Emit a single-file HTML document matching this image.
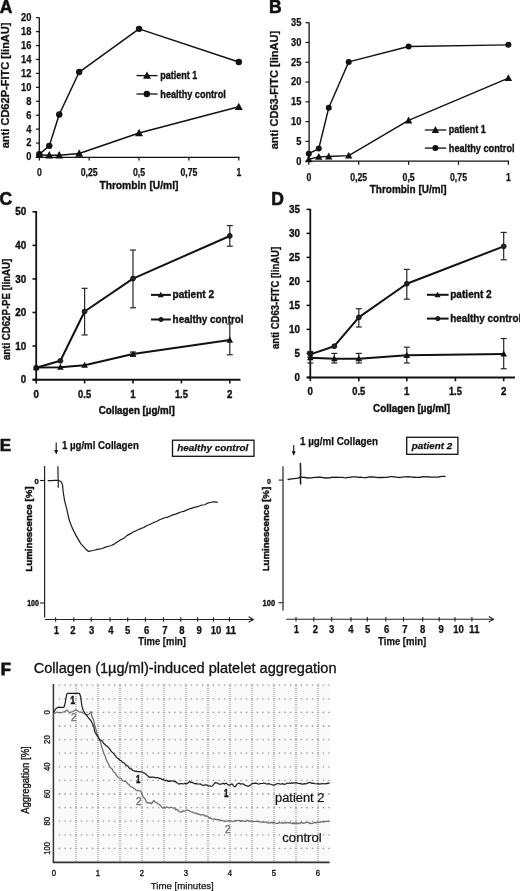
<!DOCTYPE html>
<html><head><meta charset="utf-8"><title>Figure</title>
<style>
html,body{margin:0;padding:0;background:#fff;}
body{width:520px;height:891px;overflow:hidden;}
svg{display:block;filter:grayscale(1);}
text{font-family:"Liberation Sans",sans-serif;}
</style></head><body>
<svg width="520" height="891" viewBox="0 0 520 891">
<rect width="520" height="891" fill="#fff"/>
<text x="-0.30" y="12.50" font-size="17.5" font-weight="bold"  text-anchor="start" fill="#111" stroke="#111" stroke-width="0.6"  >A</text>
<line x1="39.30" y1="17.40" x2="39.30" y2="157.60" stroke="#111" stroke-width="1.3" />
<line x1="38.60" y1="157.40" x2="239.50" y2="157.40" stroke="#111" stroke-width="1.3" />
<line x1="36.00" y1="157.00" x2="39.30" y2="157.00" stroke="#111" stroke-width="1.2" />
<text x="31.50" y="160.40" font-size="10.5" font-weight="bold"  text-anchor="end" fill="#111" stroke="#111" stroke-width="0.25" textLength="5.2" lengthAdjust="spacingAndGlyphs" >0</text>
<line x1="36.00" y1="143.07" x2="39.30" y2="143.07" stroke="#111" stroke-width="1.2" />
<text x="31.50" y="146.47" font-size="10.5" font-weight="bold"  text-anchor="end" fill="#111" stroke="#111" stroke-width="0.25" textLength="5.2" lengthAdjust="spacingAndGlyphs" >2</text>
<line x1="36.00" y1="129.14" x2="39.30" y2="129.14" stroke="#111" stroke-width="1.2" />
<text x="31.50" y="132.54" font-size="10.5" font-weight="bold"  text-anchor="end" fill="#111" stroke="#111" stroke-width="0.25" textLength="5.2" lengthAdjust="spacingAndGlyphs" >4</text>
<line x1="36.00" y1="115.21" x2="39.30" y2="115.21" stroke="#111" stroke-width="1.2" />
<text x="31.50" y="118.61" font-size="10.5" font-weight="bold"  text-anchor="end" fill="#111" stroke="#111" stroke-width="0.25" textLength="5.2" lengthAdjust="spacingAndGlyphs" >6</text>
<line x1="36.00" y1="101.28" x2="39.30" y2="101.28" stroke="#111" stroke-width="1.2" />
<text x="31.50" y="104.68" font-size="10.5" font-weight="bold"  text-anchor="end" fill="#111" stroke="#111" stroke-width="0.25" textLength="5.2" lengthAdjust="spacingAndGlyphs" >8</text>
<line x1="36.00" y1="87.35" x2="39.30" y2="87.35" stroke="#111" stroke-width="1.2" />
<text x="31.50" y="90.75" font-size="10.5" font-weight="bold"  text-anchor="end" fill="#111" stroke="#111" stroke-width="0.25" textLength="10.4" lengthAdjust="spacingAndGlyphs" >10</text>
<line x1="36.00" y1="73.42" x2="39.30" y2="73.42" stroke="#111" stroke-width="1.2" />
<text x="31.50" y="76.82" font-size="10.5" font-weight="bold"  text-anchor="end" fill="#111" stroke="#111" stroke-width="0.25" textLength="10.4" lengthAdjust="spacingAndGlyphs" >12</text>
<line x1="36.00" y1="59.49" x2="39.30" y2="59.49" stroke="#111" stroke-width="1.2" />
<text x="31.50" y="62.89" font-size="10.5" font-weight="bold"  text-anchor="end" fill="#111" stroke="#111" stroke-width="0.25" textLength="10.4" lengthAdjust="spacingAndGlyphs" >14</text>
<line x1="36.00" y1="45.56" x2="39.30" y2="45.56" stroke="#111" stroke-width="1.2" />
<text x="31.50" y="48.96" font-size="10.5" font-weight="bold"  text-anchor="end" fill="#111" stroke="#111" stroke-width="0.25" textLength="10.4" lengthAdjust="spacingAndGlyphs" >16</text>
<line x1="36.00" y1="31.63" x2="39.30" y2="31.63" stroke="#111" stroke-width="1.2" />
<text x="31.50" y="35.03" font-size="10.5" font-weight="bold"  text-anchor="end" fill="#111" stroke="#111" stroke-width="0.25" textLength="10.4" lengthAdjust="spacingAndGlyphs" >18</text>
<line x1="36.00" y1="17.70" x2="39.30" y2="17.70" stroke="#111" stroke-width="1.2" />
<text x="31.50" y="21.10" font-size="10.5" font-weight="bold"  text-anchor="end" fill="#111" stroke="#111" stroke-width="0.25" textLength="10.4" lengthAdjust="spacingAndGlyphs" >20</text>
<line x1="39.30" y1="157.00" x2="39.30" y2="160.60" stroke="#111" stroke-width="1.2" />
<text x="39.30" y="176.30" font-size="10.3" font-weight="bold"  text-anchor="middle" fill="#111" stroke="#111" stroke-width="0.25" textLength="4.8" lengthAdjust="spacingAndGlyphs" >0</text>
<line x1="89.17" y1="157.00" x2="89.17" y2="160.60" stroke="#111" stroke-width="1.2" />
<text x="89.17" y="176.30" font-size="10.3" font-weight="bold"  text-anchor="middle" fill="#111" stroke="#111" stroke-width="0.25" textLength="17.0" lengthAdjust="spacingAndGlyphs" >0,25</text>
<line x1="139.05" y1="157.00" x2="139.05" y2="160.60" stroke="#111" stroke-width="1.2" />
<text x="139.05" y="176.30" font-size="10.3" font-weight="bold"  text-anchor="middle" fill="#111" stroke="#111" stroke-width="0.25" textLength="12.2" lengthAdjust="spacingAndGlyphs" >0,5</text>
<line x1="188.93" y1="157.00" x2="188.93" y2="160.60" stroke="#111" stroke-width="1.2" />
<text x="188.93" y="176.30" font-size="10.3" font-weight="bold"  text-anchor="middle" fill="#111" stroke="#111" stroke-width="0.25" textLength="17.0" lengthAdjust="spacingAndGlyphs" >0,75</text>
<line x1="238.80" y1="157.00" x2="238.80" y2="160.60" stroke="#111" stroke-width="1.2" />
<text x="238.80" y="176.30" font-size="10.3" font-weight="bold"  text-anchor="middle" fill="#111" stroke="#111" stroke-width="0.25" textLength="4.8" lengthAdjust="spacingAndGlyphs" >1</text>
<text x="99.40" y="189.00" font-size="10.9" font-weight="bold"  text-anchor="start" fill="#111" stroke="#111" stroke-width="0.35" textLength="79.0" lengthAdjust="spacingAndGlyphs" >Thrombin [U/ml]</text>
<text transform="translate(4.90,85.40) rotate(-90)" x="0" y="3.60" font-size="10.0" font-weight="bold" text-anchor="middle" fill="#111" stroke="#111" stroke-width="0.25" textLength="125.8" lengthAdjust="spacingAndGlyphs">anti CD62P-FITC [linAU]</text>
<polyline points="39.30,154.21 49.27,145.86 59.25,114.51 79.20,72.03 139.05,28.84 238.80,61.93" fill="none" stroke="#111" stroke-width="1.5" stroke-linejoin="round" stroke-linecap="round" />
<polyline points="39.30,154.91 49.27,155.26 59.25,155.26 79.20,153.52 139.05,132.97 238.80,106.85" fill="none" stroke="#111" stroke-width="1.5" stroke-linejoin="round" stroke-linecap="round" />
<circle cx="39.30" cy="154.21" r="3.2" fill="#111" stroke="none" stroke-width="0"/>
<circle cx="49.27" cy="145.86" r="3.2" fill="#111" stroke="none" stroke-width="0"/>
<circle cx="59.25" cy="114.51" r="3.2" fill="#111" stroke="none" stroke-width="0"/>
<circle cx="79.20" cy="72.03" r="3.2" fill="#111" stroke="none" stroke-width="0"/>
<circle cx="139.05" cy="28.84" r="3.2" fill="#111" stroke="none" stroke-width="0"/>
<circle cx="238.80" cy="61.93" r="3.2" fill="#111" stroke="none" stroke-width="0"/>
<polygon points="39.30,150.71 35.30,158.11 43.30,158.11" fill="#111"/>
<polygon points="49.27,151.06 45.27,158.46 53.27,158.46" fill="#111"/>
<polygon points="59.25,151.06 55.25,158.46 63.25,158.46" fill="#111"/>
<polygon points="79.20,149.32 75.20,156.72 83.20,156.72" fill="#111"/>
<polygon points="139.05,128.77 135.05,136.17 143.05,136.17" fill="#111"/>
<polygon points="238.80,102.65 234.80,110.05 242.80,110.05" fill="#111"/>
<line x1="136.50" y1="75.60" x2="157.60" y2="75.60" stroke="#111" stroke-width="1.3" />
<polygon points="147.00,71.40 143.00,78.80 151.00,78.80" fill="#111"/>
<text x="160.30" y="78.80" font-size="10.8" font-weight="bold"  text-anchor="start" fill="#111" stroke="#111" stroke-width="0.35" textLength="37.0" lengthAdjust="spacingAndGlyphs" >patient 1</text>
<line x1="136.50" y1="94.00" x2="157.60" y2="94.00" stroke="#111" stroke-width="1.3" />
<circle cx="146.80" cy="94.00" r="3.2" fill="#111" stroke="none" stroke-width="0"/>
<text x="160.30" y="97.50" font-size="10.8" font-weight="bold"  text-anchor="start" fill="#111" stroke="#111" stroke-width="0.35" textLength="65.5" lengthAdjust="spacingAndGlyphs" >healthy control</text>
<text x="269.00" y="13.30" font-size="17.5" font-weight="bold"  text-anchor="start" fill="#111" stroke="#111" stroke-width="0.6"  >B</text>
<line x1="309.10" y1="22.30" x2="309.10" y2="161.80" stroke="#111" stroke-width="1.3" />
<line x1="308.20" y1="161.20" x2="509.00" y2="161.20" stroke="#111" stroke-width="1.3" />
<line x1="305.50" y1="161.20" x2="308.80" y2="161.20" stroke="#111" stroke-width="1.2" />
<text x="301.40" y="164.60" font-size="10.5" font-weight="bold"  text-anchor="end" fill="#111" stroke="#111" stroke-width="0.25" textLength="5.2" lengthAdjust="spacingAndGlyphs" >0</text>
<line x1="305.50" y1="141.41" x2="308.80" y2="141.41" stroke="#111" stroke-width="1.2" />
<text x="301.40" y="144.81" font-size="10.5" font-weight="bold"  text-anchor="end" fill="#111" stroke="#111" stroke-width="0.25" textLength="5.2" lengthAdjust="spacingAndGlyphs" >5</text>
<line x1="305.50" y1="121.63" x2="308.80" y2="121.63" stroke="#111" stroke-width="1.2" />
<text x="301.40" y="125.03" font-size="10.5" font-weight="bold"  text-anchor="end" fill="#111" stroke="#111" stroke-width="0.25" textLength="10.4" lengthAdjust="spacingAndGlyphs" >10</text>
<line x1="305.50" y1="101.84" x2="308.80" y2="101.84" stroke="#111" stroke-width="1.2" />
<text x="301.40" y="105.24" font-size="10.5" font-weight="bold"  text-anchor="end" fill="#111" stroke="#111" stroke-width="0.25" textLength="10.4" lengthAdjust="spacingAndGlyphs" >15</text>
<line x1="305.50" y1="82.06" x2="308.80" y2="82.06" stroke="#111" stroke-width="1.2" />
<text x="301.40" y="85.46" font-size="10.5" font-weight="bold"  text-anchor="end" fill="#111" stroke="#111" stroke-width="0.25" textLength="10.4" lengthAdjust="spacingAndGlyphs" >20</text>
<line x1="305.50" y1="62.27" x2="308.80" y2="62.27" stroke="#111" stroke-width="1.2" />
<text x="301.40" y="65.67" font-size="10.5" font-weight="bold"  text-anchor="end" fill="#111" stroke="#111" stroke-width="0.25" textLength="10.4" lengthAdjust="spacingAndGlyphs" >25</text>
<line x1="305.50" y1="42.49" x2="308.80" y2="42.49" stroke="#111" stroke-width="1.2" />
<text x="301.40" y="45.89" font-size="10.5" font-weight="bold"  text-anchor="end" fill="#111" stroke="#111" stroke-width="0.25" textLength="10.4" lengthAdjust="spacingAndGlyphs" >30</text>
<line x1="305.50" y1="22.70" x2="308.80" y2="22.70" stroke="#111" stroke-width="1.2" />
<text x="301.40" y="26.10" font-size="10.5" font-weight="bold"  text-anchor="end" fill="#111" stroke="#111" stroke-width="0.25" textLength="10.4" lengthAdjust="spacingAndGlyphs" >35</text>
<line x1="308.80" y1="161.20" x2="308.80" y2="164.80" stroke="#111" stroke-width="1.2" />
<text x="308.80" y="181.00" font-size="10.3" font-weight="bold"  text-anchor="middle" fill="#111" stroke="#111" stroke-width="0.25" textLength="4.8" lengthAdjust="spacingAndGlyphs" >0</text>
<line x1="358.70" y1="161.20" x2="358.70" y2="164.80" stroke="#111" stroke-width="1.2" />
<text x="358.70" y="181.00" font-size="10.3" font-weight="bold"  text-anchor="middle" fill="#111" stroke="#111" stroke-width="0.25" textLength="17.0" lengthAdjust="spacingAndGlyphs" >0,25</text>
<line x1="408.60" y1="161.20" x2="408.60" y2="164.80" stroke="#111" stroke-width="1.2" />
<text x="408.60" y="181.00" font-size="10.3" font-weight="bold"  text-anchor="middle" fill="#111" stroke="#111" stroke-width="0.25" textLength="12.2" lengthAdjust="spacingAndGlyphs" >0,5</text>
<line x1="458.50" y1="161.20" x2="458.50" y2="164.80" stroke="#111" stroke-width="1.2" />
<text x="458.50" y="181.00" font-size="10.3" font-weight="bold"  text-anchor="middle" fill="#111" stroke="#111" stroke-width="0.25" textLength="17.0" lengthAdjust="spacingAndGlyphs" >0,75</text>
<line x1="508.40" y1="161.20" x2="508.40" y2="164.80" stroke="#111" stroke-width="1.2" />
<text x="508.40" y="181.00" font-size="10.3" font-weight="bold"  text-anchor="middle" fill="#111" stroke="#111" stroke-width="0.25" textLength="4.8" lengthAdjust="spacingAndGlyphs" >1</text>
<text x="369.80" y="193.30" font-size="10.9" font-weight="bold"  text-anchor="start" fill="#111" stroke="#111" stroke-width="0.35" textLength="76.8" lengthAdjust="spacingAndGlyphs" >Thrombin [U/ml]</text>
<text transform="translate(274.30,90.05) rotate(-90)" x="0" y="3.71" font-size="10.3" font-weight="bold" text-anchor="middle" fill="#111" stroke="#111" stroke-width="0.25" textLength="118.5" lengthAdjust="spacingAndGlyphs">anti CD63-FITC [linAU]</text>
<polyline points="308.80,153.68 318.78,148.54 328.76,107.78 348.72,61.88 408.60,46.45 508.40,44.86" fill="none" stroke="#111" stroke-width="1.4" stroke-linejoin="round" stroke-linecap="round" />
<polyline points="308.80,159.22 318.78,156.85 328.76,156.45 348.72,155.66 408.60,120.44 508.40,78.10" fill="none" stroke="#111" stroke-width="1.4" stroke-linejoin="round" stroke-linecap="round" />
<circle cx="308.80" cy="153.68" r="3.0" fill="#111" stroke="none" stroke-width="0"/>
<circle cx="318.78" cy="148.54" r="3.0" fill="#111" stroke="none" stroke-width="0"/>
<circle cx="328.76" cy="107.78" r="3.0" fill="#111" stroke="none" stroke-width="0"/>
<circle cx="348.72" cy="61.88" r="3.0" fill="#111" stroke="none" stroke-width="0"/>
<circle cx="408.60" cy="46.45" r="3.0" fill="#111" stroke="none" stroke-width="0"/>
<circle cx="508.40" cy="44.86" r="3.0" fill="#111" stroke="none" stroke-width="0"/>
<polygon points="308.80,155.34 305.10,162.18 312.50,162.18" fill="#111"/>
<polygon points="318.78,152.96 315.08,159.81 322.48,159.81" fill="#111"/>
<polygon points="328.76,152.57 325.06,159.41 332.46,159.41" fill="#111"/>
<polygon points="348.72,151.78 345.02,158.62 352.42,158.62" fill="#111"/>
<polygon points="408.60,116.56 404.90,123.40 412.30,123.40" fill="#111"/>
<polygon points="508.40,74.22 504.70,81.06 512.10,81.06" fill="#111"/>
<line x1="424.80" y1="130.00" x2="446.20" y2="130.00" stroke="#111" stroke-width="1.3" />
<polygon points="435.40,126.11 431.70,132.96 439.10,132.96" fill="#111"/>
<text x="448.80" y="133.30" font-size="10.8" font-weight="bold"  text-anchor="start" fill="#111" stroke="#111" stroke-width="0.35" textLength="37.0" lengthAdjust="spacingAndGlyphs" >patient 1</text>
<line x1="424.80" y1="148.10" x2="446.20" y2="148.10" stroke="#111" stroke-width="1.3" />
<circle cx="435.40" cy="148.10" r="3.0" fill="#111" stroke="none" stroke-width="0"/>
<text x="448.80" y="151.50" font-size="10.8" font-weight="bold"  text-anchor="start" fill="#111" stroke="#111" stroke-width="0.35" textLength="65.8" lengthAdjust="spacingAndGlyphs" >healthy control</text>
<text x="-0.50" y="205.20" font-size="17.5" font-weight="bold"  text-anchor="start" fill="#111" stroke="#111" stroke-width="0.6"  >C</text>
<line x1="36.20" y1="211.00" x2="36.20" y2="381.00" stroke="#111" stroke-width="1.8" />
<line x1="32.60" y1="379.80" x2="240.50" y2="379.80" stroke="#111" stroke-width="2.0" />
<line x1="32.50" y1="379.60" x2="36.20" y2="379.60" stroke="#111" stroke-width="1.6" />
<text x="26.20" y="383.20" font-size="10.0" font-weight="bold"  text-anchor="end" fill="#111" stroke="#111" stroke-width="0.35" textLength="5.4" lengthAdjust="spacingAndGlyphs" >0</text>
<line x1="32.50" y1="346.04" x2="36.20" y2="346.04" stroke="#111" stroke-width="1.6" />
<text x="26.20" y="349.64" font-size="10.0" font-weight="bold"  text-anchor="end" fill="#111" stroke="#111" stroke-width="0.35" textLength="11.0" lengthAdjust="spacingAndGlyphs" >10</text>
<line x1="32.50" y1="312.48" x2="36.20" y2="312.48" stroke="#111" stroke-width="1.6" />
<text x="26.20" y="316.08" font-size="10.0" font-weight="bold"  text-anchor="end" fill="#111" stroke="#111" stroke-width="0.35" textLength="11.0" lengthAdjust="spacingAndGlyphs" >20</text>
<line x1="32.50" y1="278.92" x2="36.20" y2="278.92" stroke="#111" stroke-width="1.6" />
<text x="26.20" y="282.52" font-size="10.0" font-weight="bold"  text-anchor="end" fill="#111" stroke="#111" stroke-width="0.35" textLength="11.0" lengthAdjust="spacingAndGlyphs" >30</text>
<line x1="32.50" y1="245.36" x2="36.20" y2="245.36" stroke="#111" stroke-width="1.6" />
<text x="26.20" y="248.96" font-size="10.0" font-weight="bold"  text-anchor="end" fill="#111" stroke="#111" stroke-width="0.35" textLength="11.0" lengthAdjust="spacingAndGlyphs" >40</text>
<line x1="32.50" y1="211.80" x2="36.20" y2="211.80" stroke="#111" stroke-width="1.6" />
<text x="26.20" y="215.40" font-size="10.0" font-weight="bold"  text-anchor="end" fill="#111" stroke="#111" stroke-width="0.35" textLength="11.0" lengthAdjust="spacingAndGlyphs" >50</text>
<line x1="36.20" y1="379.60" x2="36.20" y2="383.40" stroke="#111" stroke-width="1.6" />
<text x="36.20" y="398.20" font-size="10.0" font-weight="bold"  text-anchor="middle" fill="#111" stroke="#111" stroke-width="0.35" textLength="5.4" lengthAdjust="spacingAndGlyphs" >0</text>
<line x1="84.60" y1="379.60" x2="84.60" y2="383.40" stroke="#111" stroke-width="1.6" />
<text x="84.60" y="398.20" font-size="10.0" font-weight="bold"  text-anchor="middle" fill="#111" stroke="#111" stroke-width="0.35" textLength="13.0" lengthAdjust="spacingAndGlyphs" >0.5</text>
<line x1="133.00" y1="379.60" x2="133.00" y2="383.40" stroke="#111" stroke-width="1.6" />
<text x="133.00" y="398.20" font-size="10.0" font-weight="bold"  text-anchor="middle" fill="#111" stroke="#111" stroke-width="0.35" textLength="5.4" lengthAdjust="spacingAndGlyphs" >1</text>
<line x1="181.40" y1="379.60" x2="181.40" y2="383.40" stroke="#111" stroke-width="1.6" />
<text x="181.40" y="398.20" font-size="10.0" font-weight="bold"  text-anchor="middle" fill="#111" stroke="#111" stroke-width="0.35" textLength="13.0" lengthAdjust="spacingAndGlyphs" >1.5</text>
<line x1="229.80" y1="379.60" x2="229.80" y2="383.40" stroke="#111" stroke-width="1.6" />
<text x="229.80" y="398.20" font-size="10.0" font-weight="bold"  text-anchor="middle" fill="#111" stroke="#111" stroke-width="0.35" textLength="5.4" lengthAdjust="spacingAndGlyphs" >2</text>
<text x="98.70" y="414.10" font-size="10.2" font-weight="bold"  text-anchor="start" fill="#111" stroke="#111" stroke-width="0.4" textLength="76.0" lengthAdjust="spacingAndGlyphs" >Collagen [µg/ml]</text>
<text transform="translate(5.90,309.40) rotate(-90)" x="0" y="3.60" font-size="10.0" font-weight="bold" text-anchor="middle" fill="#111" stroke="#111" stroke-width="0.3" textLength="101.3" lengthAdjust="spacingAndGlyphs">anti CD62P-PE [linAU]</text>
<line x1="84.60" y1="288.32" x2="84.60" y2="334.97" stroke="#262626" stroke-width="1.2" />
<line x1="81.60" y1="288.32" x2="87.60" y2="288.32" stroke="#262626" stroke-width="1.2" />
<line x1="81.60" y1="334.97" x2="87.60" y2="334.97" stroke="#262626" stroke-width="1.2" />
<line x1="133.00" y1="250.06" x2="133.00" y2="307.78" stroke="#262626" stroke-width="1.2" />
<line x1="130.00" y1="250.06" x2="136.00" y2="250.06" stroke="#262626" stroke-width="1.2" />
<line x1="130.00" y1="307.78" x2="136.00" y2="307.78" stroke="#262626" stroke-width="1.2" />
<line x1="229.80" y1="225.56" x2="229.80" y2="246.20" stroke="#262626" stroke-width="1.2" />
<line x1="226.80" y1="225.56" x2="232.80" y2="225.56" stroke="#262626" stroke-width="1.2" />
<line x1="226.80" y1="246.20" x2="232.80" y2="246.20" stroke="#262626" stroke-width="1.2" />
<line x1="133.00" y1="352.08" x2="133.00" y2="356.11" stroke="#262626" stroke-width="1.2" />
<line x1="130.00" y1="352.08" x2="136.00" y2="352.08" stroke="#262626" stroke-width="1.2" />
<line x1="130.00" y1="356.11" x2="136.00" y2="356.11" stroke="#262626" stroke-width="1.2" />
<line x1="229.80" y1="323.89" x2="229.80" y2="354.77" stroke="#262626" stroke-width="1.2" />
<line x1="226.80" y1="323.89" x2="232.80" y2="323.89" stroke="#262626" stroke-width="1.2" />
<line x1="226.80" y1="354.77" x2="232.80" y2="354.77" stroke="#262626" stroke-width="1.2" />
<polyline points="36.20,367.69 60.40,360.81 84.60,311.47 133.00,278.58 229.80,235.96" fill="none" stroke="#111" stroke-width="2.0" stroke-linejoin="round" stroke-linecap="round" />
<polyline points="36.20,367.52 60.40,367.18 84.60,365.17 133.00,354.09 229.80,340.00" fill="none" stroke="#111" stroke-width="2.0" stroke-linejoin="round" stroke-linecap="round" />
<circle cx="36.20" cy="367.69" r="2.4" fill="#222" stroke="#111" stroke-width="1.0"/>
<circle cx="60.40" cy="360.81" r="2.4" fill="#222" stroke="#111" stroke-width="1.0"/>
<circle cx="84.60" cy="311.47" r="2.4" fill="#222" stroke="#111" stroke-width="1.0"/>
<circle cx="133.00" cy="278.58" r="2.4" fill="#222" stroke="#111" stroke-width="1.0"/>
<circle cx="229.80" cy="235.96" r="2.4" fill="#222" stroke="#111" stroke-width="1.0"/>
<polygon points="36.20,364.05 32.90,370.16 39.50,370.16" fill="#111"/>
<polygon points="60.40,363.72 57.10,369.82 63.70,369.82" fill="#111"/>
<polygon points="84.60,361.70 81.30,367.81 87.90,367.81" fill="#111"/>
<polygon points="133.00,350.63 129.70,356.73 136.30,356.73" fill="#111"/>
<polygon points="229.80,336.53 226.50,342.64 233.10,342.64" fill="#111"/>
<line x1="151.00" y1="294.90" x2="170.80" y2="294.90" stroke="#111" stroke-width="2.0" />
<polygon points="160.70,291.75 157.70,297.30 163.70,297.30" fill="#111"/>
<text x="172.60" y="298.40" font-size="10.4" font-weight="bold"  text-anchor="start" fill="#111" stroke="#111" stroke-width="0.35" textLength="41.5" lengthAdjust="spacingAndGlyphs" >patient 2</text>
<line x1="151.00" y1="319.50" x2="170.80" y2="319.50" stroke="#111" stroke-width="2.0" />
<circle cx="161.00" cy="319.50" r="2.1" fill="#222" stroke="#111" stroke-width="1.0"/>
<text x="172.60" y="323.00" font-size="10.4" font-weight="bold"  text-anchor="start" fill="#111" stroke="#111" stroke-width="0.35" textLength="71.0" lengthAdjust="spacingAndGlyphs" >healthy control</text>
<text x="271.20" y="205.20" font-size="17.5" font-weight="bold"  text-anchor="start" fill="#111" stroke="#111" stroke-width="0.6"  >D</text>
<line x1="310.30" y1="208.90" x2="310.30" y2="378.40" stroke="#111" stroke-width="1.8" />
<line x1="306.80" y1="377.60" x2="515.00" y2="377.60" stroke="#111" stroke-width="2.0" />
<line x1="306.60" y1="377.40" x2="310.30" y2="377.40" stroke="#111" stroke-width="1.6" />
<text x="300.00" y="381.00" font-size="10.0" font-weight="bold"  text-anchor="end" fill="#111" stroke="#111" stroke-width="0.35" textLength="5.4" lengthAdjust="spacingAndGlyphs" >0</text>
<line x1="306.60" y1="353.40" x2="310.30" y2="353.40" stroke="#111" stroke-width="1.6" />
<text x="300.00" y="357.00" font-size="10.0" font-weight="bold"  text-anchor="end" fill="#111" stroke="#111" stroke-width="0.35" textLength="5.4" lengthAdjust="spacingAndGlyphs" >5</text>
<line x1="306.60" y1="329.40" x2="310.30" y2="329.40" stroke="#111" stroke-width="1.6" />
<text x="300.00" y="333.00" font-size="10.0" font-weight="bold"  text-anchor="end" fill="#111" stroke="#111" stroke-width="0.35" textLength="11.0" lengthAdjust="spacingAndGlyphs" >10</text>
<line x1="306.60" y1="305.40" x2="310.30" y2="305.40" stroke="#111" stroke-width="1.6" />
<text x="300.00" y="309.00" font-size="10.0" font-weight="bold"  text-anchor="end" fill="#111" stroke="#111" stroke-width="0.35" textLength="11.0" lengthAdjust="spacingAndGlyphs" >15</text>
<line x1="306.60" y1="281.40" x2="310.30" y2="281.40" stroke="#111" stroke-width="1.6" />
<text x="300.00" y="285.00" font-size="10.0" font-weight="bold"  text-anchor="end" fill="#111" stroke="#111" stroke-width="0.35" textLength="11.0" lengthAdjust="spacingAndGlyphs" >20</text>
<line x1="306.60" y1="257.40" x2="310.30" y2="257.40" stroke="#111" stroke-width="1.6" />
<text x="300.00" y="261.00" font-size="10.0" font-weight="bold"  text-anchor="end" fill="#111" stroke="#111" stroke-width="0.35" textLength="11.0" lengthAdjust="spacingAndGlyphs" >25</text>
<line x1="306.60" y1="233.40" x2="310.30" y2="233.40" stroke="#111" stroke-width="1.6" />
<text x="300.00" y="237.00" font-size="10.0" font-weight="bold"  text-anchor="end" fill="#111" stroke="#111" stroke-width="0.35" textLength="11.0" lengthAdjust="spacingAndGlyphs" >30</text>
<line x1="306.60" y1="209.40" x2="310.30" y2="209.40" stroke="#111" stroke-width="1.6" />
<text x="300.00" y="213.00" font-size="10.0" font-weight="bold"  text-anchor="end" fill="#111" stroke="#111" stroke-width="0.35" textLength="11.0" lengthAdjust="spacingAndGlyphs" >35</text>
<line x1="310.30" y1="377.40" x2="310.30" y2="381.20" stroke="#111" stroke-width="1.6" />
<text x="310.30" y="395.30" font-size="10.0" font-weight="bold"  text-anchor="middle" fill="#111" stroke="#111" stroke-width="0.35" textLength="5.4" lengthAdjust="spacingAndGlyphs" >0</text>
<line x1="358.80" y1="377.40" x2="358.80" y2="381.20" stroke="#111" stroke-width="1.6" />
<text x="358.80" y="395.30" font-size="10.0" font-weight="bold"  text-anchor="middle" fill="#111" stroke="#111" stroke-width="0.35" textLength="13.0" lengthAdjust="spacingAndGlyphs" >0.5</text>
<line x1="406.80" y1="377.40" x2="406.80" y2="381.20" stroke="#111" stroke-width="1.6" />
<text x="406.80" y="395.30" font-size="10.0" font-weight="bold"  text-anchor="middle" fill="#111" stroke="#111" stroke-width="0.35" textLength="5.4" lengthAdjust="spacingAndGlyphs" >1</text>
<line x1="455.40" y1="377.40" x2="455.40" y2="381.20" stroke="#111" stroke-width="1.6" />
<text x="455.40" y="395.30" font-size="10.0" font-weight="bold"  text-anchor="middle" fill="#111" stroke="#111" stroke-width="0.35" textLength="13.0" lengthAdjust="spacingAndGlyphs" >1.5</text>
<line x1="503.70" y1="377.40" x2="503.70" y2="381.20" stroke="#111" stroke-width="1.6" />
<text x="503.70" y="395.30" font-size="10.0" font-weight="bold"  text-anchor="middle" fill="#111" stroke="#111" stroke-width="0.35" textLength="5.4" lengthAdjust="spacingAndGlyphs" >2</text>
<text x="373.10" y="412.30" font-size="10.2" font-weight="bold"  text-anchor="start" fill="#111" stroke="#111" stroke-width="0.4" textLength="77.0" lengthAdjust="spacingAndGlyphs" >Collagen [µg/ml]</text>
<text transform="translate(275.00,297.90) rotate(-90)" x="0" y="3.60" font-size="10.0" font-weight="bold" text-anchor="middle" fill="#111" stroke="#111" stroke-width="0.3" textLength="102.1" lengthAdjust="spacingAndGlyphs">anti CD63-FITC [linAU]</text>
<line x1="310.30" y1="351.48" x2="310.30" y2="357.24" stroke="#262626" stroke-width="1.2" />
<line x1="307.30" y1="351.48" x2="313.30" y2="351.48" stroke="#262626" stroke-width="1.2" />
<line x1="307.30" y1="357.24" x2="313.30" y2="357.24" stroke="#262626" stroke-width="1.2" />
<line x1="358.80" y1="308.76" x2="358.80" y2="327.00" stroke="#262626" stroke-width="1.2" />
<line x1="355.80" y1="308.76" x2="361.80" y2="308.76" stroke="#262626" stroke-width="1.2" />
<line x1="355.80" y1="327.00" x2="361.80" y2="327.00" stroke="#262626" stroke-width="1.2" />
<line x1="406.80" y1="269.40" x2="406.80" y2="299.16" stroke="#262626" stroke-width="1.2" />
<line x1="403.80" y1="269.40" x2="409.80" y2="269.40" stroke="#262626" stroke-width="1.2" />
<line x1="403.80" y1="299.16" x2="409.80" y2="299.16" stroke="#262626" stroke-width="1.2" />
<line x1="503.70" y1="232.44" x2="503.70" y2="259.80" stroke="#262626" stroke-width="1.2" />
<line x1="500.70" y1="232.44" x2="506.70" y2="232.44" stroke="#262626" stroke-width="1.2" />
<line x1="500.70" y1="259.80" x2="506.70" y2="259.80" stroke="#262626" stroke-width="1.2" />
<line x1="310.30" y1="352.44" x2="310.30" y2="363.00" stroke="#262626" stroke-width="1.2" />
<line x1="307.30" y1="352.44" x2="313.30" y2="352.44" stroke="#262626" stroke-width="1.2" />
<line x1="307.30" y1="363.00" x2="313.30" y2="363.00" stroke="#262626" stroke-width="1.2" />
<line x1="334.30" y1="353.40" x2="334.30" y2="363.00" stroke="#262626" stroke-width="1.2" />
<line x1="331.30" y1="353.40" x2="337.30" y2="353.40" stroke="#262626" stroke-width="1.2" />
<line x1="331.30" y1="363.00" x2="337.30" y2="363.00" stroke="#262626" stroke-width="1.2" />
<line x1="358.80" y1="353.40" x2="358.80" y2="363.00" stroke="#262626" stroke-width="1.2" />
<line x1="355.80" y1="353.40" x2="361.80" y2="353.40" stroke="#262626" stroke-width="1.2" />
<line x1="355.80" y1="363.00" x2="361.80" y2="363.00" stroke="#262626" stroke-width="1.2" />
<line x1="406.80" y1="347.16" x2="406.80" y2="363.00" stroke="#262626" stroke-width="1.2" />
<line x1="403.80" y1="347.16" x2="409.80" y2="347.16" stroke="#262626" stroke-width="1.2" />
<line x1="403.80" y1="363.00" x2="409.80" y2="363.00" stroke="#262626" stroke-width="1.2" />
<line x1="503.70" y1="338.52" x2="503.70" y2="368.76" stroke="#262626" stroke-width="1.2" />
<line x1="500.70" y1="338.52" x2="506.70" y2="338.52" stroke="#262626" stroke-width="1.2" />
<line x1="500.70" y1="368.76" x2="506.70" y2="368.76" stroke="#262626" stroke-width="1.2" />
<polyline points="310.30,354.36 334.30,346.20 358.80,317.40 406.80,283.80 503.70,246.36" fill="none" stroke="#111" stroke-width="2.0" stroke-linejoin="round" stroke-linecap="round" />
<polyline points="310.30,357.72 334.30,358.68 358.80,358.68 406.80,355.32 503.70,353.88" fill="none" stroke="#111" stroke-width="2.0" stroke-linejoin="round" stroke-linecap="round" />
<circle cx="310.30" cy="354.36" r="2.4" fill="#222" stroke="#111" stroke-width="1.0"/>
<circle cx="334.30" cy="346.20" r="2.4" fill="#222" stroke="#111" stroke-width="1.0"/>
<circle cx="358.80" cy="317.40" r="2.4" fill="#222" stroke="#111" stroke-width="1.0"/>
<circle cx="406.80" cy="283.80" r="2.4" fill="#222" stroke="#111" stroke-width="1.0"/>
<circle cx="503.70" cy="246.36" r="2.4" fill="#222" stroke="#111" stroke-width="1.0"/>
<polygon points="310.30,354.25 307.00,360.36 313.60,360.36" fill="#111"/>
<polygon points="334.30,355.21 331.00,361.32 337.60,361.32" fill="#111"/>
<polygon points="358.80,355.21 355.50,361.32 362.10,361.32" fill="#111"/>
<polygon points="406.80,351.86 403.50,357.96 410.10,357.96" fill="#111"/>
<polygon points="503.70,350.42 500.40,356.52 507.00,356.52" fill="#111"/>
<line x1="427.00" y1="294.80" x2="448.60" y2="294.80" stroke="#111" stroke-width="2.0" />
<polygon points="437.50,291.65 434.50,297.20 440.50,297.20" fill="#111"/>
<text x="450.20" y="298.30" font-size="10.4" font-weight="bold"  text-anchor="start" fill="#111" stroke="#111" stroke-width="0.35" textLength="41.5" lengthAdjust="spacingAndGlyphs" >patient 2</text>
<line x1="427.00" y1="318.60" x2="448.60" y2="318.60" stroke="#111" stroke-width="2.0" />
<circle cx="437.80" cy="318.60" r="2.1" fill="#222" stroke="#111" stroke-width="1.0"/>
<text x="450.20" y="322.10" font-size="10.4" font-weight="bold"  text-anchor="start" fill="#111" stroke="#111" stroke-width="0.35" textLength="71.0" lengthAdjust="spacingAndGlyphs" >healthy control</text>
<text x="-0.30" y="450.70" font-size="17.0" font-weight="bold"  text-anchor="start" fill="#111" stroke="#111" stroke-width="0.6"  >E</text>
<line x1="56.20" y1="442.50" x2="56.20" y2="451.00" stroke="#111" stroke-width="1.1" />
<polygon points="54.2,450.0 58.2,450.0 56.2,454.6" fill="#111"/>
<text x="61.90" y="449.40" font-size="10.2" font-weight="bold"  text-anchor="start" fill="#111" stroke="#111" stroke-width="0.25" textLength="76.9" lengthAdjust="spacingAndGlyphs" >1 µg/ml Collagen</text>
<rect x="172.5" y="440.2" width="81.5" height="16.1" fill="none" stroke="#111" stroke-width="1.3"/>
<text x="177.30" y="451.20" font-size="9.9" font-weight="bold" font-style="italic" text-anchor="start" fill="#111" stroke="#111" stroke-width="0.25" textLength="71.0" lengthAdjust="spacingAndGlyphs" >healthy control</text>
<line x1="44.60" y1="466.00" x2="44.60" y2="617.50" stroke="#222" stroke-width="1.2" />
<line x1="40.00" y1="480.50" x2="44.60" y2="480.50" stroke="#222" stroke-width="1.1" />
<line x1="40.00" y1="603.00" x2="44.60" y2="603.00" stroke="#222" stroke-width="1.1" />
<text x="36.60" y="484.00" font-size="8.0" font-weight="bold"  text-anchor="middle" fill="#111" stroke="#111" stroke-width="0.4" textLength="4.2" lengthAdjust="spacingAndGlyphs" >0</text>
<text x="38.90" y="606.00" font-size="8.5" font-weight="bold"  text-anchor="end" fill="#111" stroke="#111" stroke-width="0.35" textLength="11.7" lengthAdjust="spacingAndGlyphs" >100</text>
<line x1="45.00" y1="619.50" x2="253.30" y2="619.50" stroke="#222" stroke-width="1.1" />
<polyline points="248.6,616.8 253.3,619.5 248.6,622.2" fill="none" stroke="#222" stroke-width="1.1"/>
<line x1="55.60" y1="617.30" x2="55.60" y2="621.70" stroke="#222" stroke-width="1.1" />
<text x="56.50" y="633.50" font-size="10.0" font-weight="bold"  text-anchor="middle" fill="#111" stroke="#111" stroke-width="0.25" textLength="5.3" lengthAdjust="spacingAndGlyphs" >1</text>
<line x1="73.80" y1="617.30" x2="73.80" y2="621.70" stroke="#222" stroke-width="1.1" />
<text x="72.90" y="633.50" font-size="10.0" font-weight="bold"  text-anchor="middle" fill="#111" stroke="#111" stroke-width="0.25" textLength="5.3" lengthAdjust="spacingAndGlyphs" >2</text>
<line x1="91.20" y1="617.30" x2="91.20" y2="621.70" stroke="#222" stroke-width="1.1" />
<text x="91.70" y="633.50" font-size="10.0" font-weight="bold"  text-anchor="middle" fill="#111" stroke="#111" stroke-width="0.25" textLength="5.3" lengthAdjust="spacingAndGlyphs" >3</text>
<line x1="110.00" y1="617.30" x2="110.00" y2="621.70" stroke="#222" stroke-width="1.1" />
<text x="111.00" y="633.50" font-size="10.0" font-weight="bold"  text-anchor="middle" fill="#111" stroke="#111" stroke-width="0.25" textLength="5.3" lengthAdjust="spacingAndGlyphs" >4</text>
<line x1="127.70" y1="617.30" x2="127.70" y2="621.70" stroke="#222" stroke-width="1.1" />
<text x="127.70" y="633.50" font-size="10.0" font-weight="bold"  text-anchor="middle" fill="#111" stroke="#111" stroke-width="0.25" textLength="5.3" lengthAdjust="spacingAndGlyphs" >5</text>
<line x1="145.40" y1="617.30" x2="145.40" y2="621.70" stroke="#222" stroke-width="1.1" />
<text x="146.70" y="633.50" font-size="10.0" font-weight="bold"  text-anchor="middle" fill="#111" stroke="#111" stroke-width="0.25" textLength="5.3" lengthAdjust="spacingAndGlyphs" >6</text>
<line x1="163.50" y1="617.30" x2="163.50" y2="621.70" stroke="#222" stroke-width="1.1" />
<text x="165.00" y="633.50" font-size="10.0" font-weight="bold"  text-anchor="middle" fill="#111" stroke="#111" stroke-width="0.25" textLength="5.3" lengthAdjust="spacingAndGlyphs" >7</text>
<line x1="180.80" y1="617.30" x2="180.80" y2="621.70" stroke="#222" stroke-width="1.1" />
<text x="181.90" y="633.50" font-size="10.0" font-weight="bold"  text-anchor="middle" fill="#111" stroke="#111" stroke-width="0.25" textLength="5.3" lengthAdjust="spacingAndGlyphs" >8</text>
<line x1="197.70" y1="617.30" x2="197.70" y2="621.70" stroke="#222" stroke-width="1.1" />
<text x="199.20" y="633.50" font-size="10.0" font-weight="bold"  text-anchor="middle" fill="#111" stroke="#111" stroke-width="0.25" textLength="5.3" lengthAdjust="spacingAndGlyphs" >9</text>
<line x1="213.50" y1="617.30" x2="213.50" y2="621.70" stroke="#222" stroke-width="1.1" />
<text x="216.00" y="633.50" font-size="10.0" font-weight="bold"  text-anchor="middle" fill="#111" stroke="#111" stroke-width="0.25" textLength="10.6" lengthAdjust="spacingAndGlyphs" >10</text>
<line x1="229.40" y1="617.30" x2="229.40" y2="621.70" stroke="#222" stroke-width="1.1" />
<text x="230.80" y="633.50" font-size="10.0" font-weight="bold"  text-anchor="middle" fill="#111" stroke="#111" stroke-width="0.25" textLength="10.6" lengthAdjust="spacingAndGlyphs" >11</text>
<text x="138.30" y="645.00" font-size="10.0" font-weight="bold"  text-anchor="start" fill="#111" stroke="#111" stroke-width="0.25" textLength="47.7" lengthAdjust="spacingAndGlyphs" >Time [min]</text>
<text transform="translate(28.00,529.10) rotate(-90)" x="0" y="3.56" font-size="9.9" font-weight="bold" text-anchor="middle" fill="#111" stroke="#111" stroke-width="0.45" textLength="85.3" lengthAdjust="spacingAndGlyphs">Luminescence [%]</text>
<polyline points="48.10,480.60 51.27,480.53 54.43,480.47 57.60,480.40 60.00,481.00 61.60,482.40 62.60,485.38 63.10,491.26 64.60,500.91 66.90,509.70 69.20,520.03 72.30,528.11 76.20,535.89 80.80,543.61 85.40,548.68 88.50,551.45 93.10,550.50 96.15,549.71 99.20,549.15 102.30,548.53 105.40,547.14 108.45,546.21 111.50,545.49 114.60,543.86 117.70,541.75 120.75,539.78 123.80,538.33 127.20,535.38 130.60,533.65 133.25,532.03 135.90,530.70 138.55,529.46 141.20,528.37 143.82,527.45 146.45,525.73 149.07,524.73 151.70,523.50 154.35,522.21 157.00,521.23 159.65,519.79 162.30,518.69 164.95,517.79 167.60,517.13 170.25,515.95 172.90,514.87 175.55,514.11 178.20,513.07 180.85,512.01 183.50,511.41 186.12,510.36 188.75,509.07 191.38,508.33 194.00,507.32 196.65,506.84 199.30,506.01 201.95,504.98 204.60,504.74 207.43,503.20 210.27,502.48 213.10,501.78 217.30,502.10" fill="none" stroke="#1a1a1a" stroke-width="1.2" stroke-linejoin="round" stroke-linecap="round" />
<polyline points="57.90,466.50 58.10,478.00 58.30,483.00 58.20,487.30" fill="none" stroke="#222" stroke-width="1.2" stroke-linejoin="round" stroke-linecap="round" />
<line x1="293.70" y1="445.00" x2="293.70" y2="452.00" stroke="#111" stroke-width="1.1" />
<polygon points="291.7,451.2 295.7,451.2 293.7,455.8" fill="#111"/>
<text x="300.00" y="445.20" font-size="10.2" font-weight="bold"  text-anchor="start" fill="#111" stroke="#111" stroke-width="0.25" textLength="78.0" lengthAdjust="spacingAndGlyphs" >1 µg/ml Collagen</text>
<rect x="406.7" y="437.3" width="51.2" height="17.0" fill="none" stroke="#111" stroke-width="1.3"/>
<text x="411.80" y="448.80" font-size="9.9" font-weight="bold" font-style="italic" text-anchor="start" fill="#111" stroke="#111" stroke-width="0.25" textLength="40.4" lengthAdjust="spacingAndGlyphs" >patient 2</text>
<line x1="283.00" y1="466.30" x2="283.00" y2="610.50" stroke="#222" stroke-width="1.2" />
<line x1="278.70" y1="480.10" x2="283.00" y2="480.10" stroke="#222" stroke-width="1.1" />
<line x1="278.50" y1="602.70" x2="283.00" y2="602.70" stroke="#222" stroke-width="1.1" />
<text x="268.80" y="483.60" font-size="7.2" font-weight="bold"  text-anchor="middle" fill="#111" stroke="#111" stroke-width="0.3" textLength="3.8" lengthAdjust="spacingAndGlyphs" >0</text>
<text x="275.10" y="606.00" font-size="8.5" font-weight="bold"  text-anchor="end" fill="#111" stroke="#111" stroke-width="0.35" textLength="12.5" lengthAdjust="spacingAndGlyphs" >100</text>
<line x1="286.30" y1="619.30" x2="493.50" y2="619.30" stroke="#222" stroke-width="1.1" />
<polyline points="488.8,616.6 493.5,619.3 488.8,622.0" fill="none" stroke="#222" stroke-width="1.1"/>
<line x1="296.00" y1="617.10" x2="296.00" y2="621.50" stroke="#222" stroke-width="1.1" />
<text x="296.50" y="633.30" font-size="10.0" font-weight="bold"  text-anchor="middle" fill="#111" stroke="#111" stroke-width="0.25" textLength="5.3" lengthAdjust="spacingAndGlyphs" >1</text>
<line x1="313.80" y1="617.10" x2="313.80" y2="621.50" stroke="#222" stroke-width="1.1" />
<text x="315.40" y="633.30" font-size="10.0" font-weight="bold"  text-anchor="middle" fill="#111" stroke="#111" stroke-width="0.25" textLength="5.3" lengthAdjust="spacingAndGlyphs" >2</text>
<line x1="331.70" y1="617.10" x2="331.70" y2="621.50" stroke="#222" stroke-width="1.1" />
<text x="331.70" y="633.30" font-size="10.0" font-weight="bold"  text-anchor="middle" fill="#111" stroke="#111" stroke-width="0.25" textLength="5.3" lengthAdjust="spacingAndGlyphs" >3</text>
<line x1="351.00" y1="617.10" x2="351.00" y2="621.50" stroke="#222" stroke-width="1.1" />
<text x="351.00" y="633.30" font-size="10.0" font-weight="bold"  text-anchor="middle" fill="#111" stroke="#111" stroke-width="0.25" textLength="5.3" lengthAdjust="spacingAndGlyphs" >4</text>
<line x1="367.30" y1="617.10" x2="367.30" y2="621.50" stroke="#222" stroke-width="1.1" />
<text x="367.70" y="633.30" font-size="10.0" font-weight="bold"  text-anchor="middle" fill="#111" stroke="#111" stroke-width="0.25" textLength="5.3" lengthAdjust="spacingAndGlyphs" >5</text>
<line x1="385.80" y1="617.10" x2="385.80" y2="621.50" stroke="#222" stroke-width="1.1" />
<text x="386.70" y="633.30" font-size="10.0" font-weight="bold"  text-anchor="middle" fill="#111" stroke="#111" stroke-width="0.25" textLength="5.3" lengthAdjust="spacingAndGlyphs" >6</text>
<line x1="403.50" y1="617.10" x2="403.50" y2="621.50" stroke="#222" stroke-width="1.1" />
<text x="405.00" y="633.30" font-size="10.0" font-weight="bold"  text-anchor="middle" fill="#111" stroke="#111" stroke-width="0.25" textLength="5.3" lengthAdjust="spacingAndGlyphs" >7</text>
<line x1="422.70" y1="617.10" x2="422.70" y2="621.50" stroke="#222" stroke-width="1.1" />
<text x="422.70" y="633.30" font-size="10.0" font-weight="bold"  text-anchor="middle" fill="#111" stroke="#111" stroke-width="0.25" textLength="5.3" lengthAdjust="spacingAndGlyphs" >8</text>
<line x1="439.20" y1="617.10" x2="439.20" y2="621.50" stroke="#222" stroke-width="1.1" />
<text x="441.20" y="633.30" font-size="10.0" font-weight="bold"  text-anchor="middle" fill="#111" stroke="#111" stroke-width="0.25" textLength="5.3" lengthAdjust="spacingAndGlyphs" >9</text>
<line x1="455.00" y1="617.10" x2="455.00" y2="621.50" stroke="#222" stroke-width="1.1" />
<text x="458.50" y="633.30" font-size="10.0" font-weight="bold"  text-anchor="middle" fill="#111" stroke="#111" stroke-width="0.25" textLength="10.6" lengthAdjust="spacingAndGlyphs" >10</text>
<line x1="471.90" y1="617.10" x2="471.90" y2="621.50" stroke="#222" stroke-width="1.1" />
<text x="474.20" y="633.30" font-size="10.0" font-weight="bold"  text-anchor="middle" fill="#111" stroke="#111" stroke-width="0.25" textLength="10.6" lengthAdjust="spacingAndGlyphs" >11</text>
<text x="378.10" y="645.00" font-size="10.0" font-weight="bold"  text-anchor="start" fill="#111" stroke="#111" stroke-width="0.25" textLength="48.1" lengthAdjust="spacingAndGlyphs" >Time [min]</text>
<text transform="translate(265.60,529.10) rotate(-90)" x="0" y="3.49" font-size="9.7" font-weight="bold" text-anchor="middle" fill="#111" stroke="#111" stroke-width="0.45" textLength="84.4" lengthAdjust="spacingAndGlyphs">Luminescence [%]</text>
<polyline points="288.10,479.50 290.10,479.22 292.10,478.94 294.10,478.66 296.10,478.38 298.10,478.10 300.10,477.08 302.10,477.28 304.10,477.22 306.10,477.76 308.10,477.99 310.10,477.93 312.10,477.96 314.10,477.44 316.10,477.40 318.10,477.21 320.10,477.23 322.10,477.34 324.10,477.77 326.10,477.99 328.10,477.79 330.10,477.76 332.10,477.22 334.10,477.31 336.10,477.15 338.10,477.35 340.10,477.44 342.10,477.40 344.10,477.63 346.10,477.80 348.10,477.34 350.10,477.33 352.10,476.94 354.10,476.79 356.10,476.80 358.10,477.33 360.10,477.24 362.10,477.47 364.10,477.57 366.10,477.67 368.10,477.04 370.10,476.99 372.10,476.92 374.10,477.12 376.10,477.27 378.10,477.52 380.10,477.40 382.10,477.49 384.10,477.32 386.10,477.35 388.10,477.15 390.10,476.63 392.10,476.68 394.10,476.89 396.10,477.12 398.10,477.41 400.10,477.48 402.10,477.18 404.10,476.81 406.10,476.79 408.10,476.65 410.10,476.79 412.10,477.17 414.10,477.27 416.10,477.34 418.10,477.41 420.10,477.29 422.10,476.74 424.10,476.93 426.10,476.76 428.10,476.86 430.10,477.01 432.10,477.03 434.10,477.20 436.10,477.06 438.10,477.18 440.10,476.65 442.10,476.42 444.10,476.38 445.10,476.40" fill="none" stroke="#1a1a1a" stroke-width="1.3" stroke-linejoin="round" stroke-linecap="round" />
<polyline points="300.40,463.50 300.60,472.00 300.50,478.00 300.60,484.00" fill="none" stroke="#222" stroke-width="1.6" stroke-linejoin="round" stroke-linecap="round" />
<text x="0.80" y="675.00" font-size="16.5" font-weight="bold"  text-anchor="start" fill="#111" stroke="#111" stroke-width="0.9"  >F</text>
<text x="33.70" y="673.30" font-size="13.8"   text-anchor="start" fill="#111" stroke="#111" stroke-width="0.3" textLength="302.8" lengthAdjust="spacingAndGlyphs" >Collagen (1µg/ml)-induced platelet aggregation</text>
<rect x="53.4" y="684.0" width="276.20000000000005" height="178.29999999999995" fill="#fafafa"/>
<line x1="58.85" y1="685.20" x2="329.6" y2="685.20" stroke="#909090" stroke-width="1.3" stroke-dasharray="1.3 4.2"/>
<line x1="58.85" y1="698.80" x2="329.6" y2="698.80" stroke="#909090" stroke-width="1.3" stroke-dasharray="1.3 4.2"/>
<line x1="58.85" y1="712.40" x2="329.6" y2="712.40" stroke="#909090" stroke-width="1.3" stroke-dasharray="1.3 4.2"/>
<line x1="58.85" y1="726.00" x2="329.6" y2="726.00" stroke="#909090" stroke-width="1.3" stroke-dasharray="1.3 4.2"/>
<line x1="58.85" y1="739.60" x2="329.6" y2="739.60" stroke="#909090" stroke-width="1.3" stroke-dasharray="1.3 4.2"/>
<line x1="58.85" y1="753.20" x2="329.6" y2="753.20" stroke="#909090" stroke-width="1.3" stroke-dasharray="1.3 4.2"/>
<line x1="58.85" y1="766.80" x2="329.6" y2="766.80" stroke="#909090" stroke-width="1.3" stroke-dasharray="1.3 4.2"/>
<line x1="58.85" y1="780.40" x2="329.6" y2="780.40" stroke="#909090" stroke-width="1.3" stroke-dasharray="1.3 4.2"/>
<line x1="58.85" y1="794.00" x2="329.6" y2="794.00" stroke="#909090" stroke-width="1.3" stroke-dasharray="1.3 4.2"/>
<line x1="58.85" y1="807.60" x2="329.6" y2="807.60" stroke="#909090" stroke-width="1.3" stroke-dasharray="1.3 4.2"/>
<line x1="58.85" y1="821.20" x2="329.6" y2="821.20" stroke="#909090" stroke-width="1.3" stroke-dasharray="1.3 4.2"/>
<line x1="58.85" y1="834.80" x2="329.6" y2="834.80" stroke="#909090" stroke-width="1.3" stroke-dasharray="1.3 4.2"/>
<line x1="58.85" y1="848.40" x2="329.6" y2="848.40" stroke="#909090" stroke-width="1.3" stroke-dasharray="1.3 4.2"/>
<line x1="76.00" y1="684.0" x2="76.00" y2="862.3" stroke="#8e8e8e" stroke-width="1.0" stroke-dasharray="1 1"/>
<line x1="98.00" y1="684.0" x2="98.00" y2="862.3" stroke="#8e8e8e" stroke-width="1.0" stroke-dasharray="1 1"/>
<line x1="120.00" y1="684.0" x2="120.00" y2="862.3" stroke="#8e8e8e" stroke-width="1.0" stroke-dasharray="1 1"/>
<line x1="142.00" y1="684.0" x2="142.00" y2="862.3" stroke="#8e8e8e" stroke-width="1.0" stroke-dasharray="1 1"/>
<line x1="164.00" y1="684.0" x2="164.00" y2="862.3" stroke="#8e8e8e" stroke-width="1.0" stroke-dasharray="1 1"/>
<line x1="186.00" y1="684.0" x2="186.00" y2="862.3" stroke="#8e8e8e" stroke-width="1.0" stroke-dasharray="1 1"/>
<line x1="208.00" y1="684.0" x2="208.00" y2="862.3" stroke="#8e8e8e" stroke-width="1.0" stroke-dasharray="1 1"/>
<line x1="230.00" y1="684.0" x2="230.00" y2="862.3" stroke="#8e8e8e" stroke-width="1.0" stroke-dasharray="1 1"/>
<line x1="252.00" y1="684.0" x2="252.00" y2="862.3" stroke="#8e8e8e" stroke-width="1.0" stroke-dasharray="1 1"/>
<line x1="274.00" y1="684.0" x2="274.00" y2="862.3" stroke="#8e8e8e" stroke-width="1.0" stroke-dasharray="1 1"/>
<line x1="296.00" y1="684.0" x2="296.00" y2="862.3" stroke="#8e8e8e" stroke-width="1.0" stroke-dasharray="1 1"/>
<line x1="318.00" y1="684.0" x2="318.00" y2="862.3" stroke="#8e8e8e" stroke-width="1.0" stroke-dasharray="1 1"/>
<line x1="53.40" y1="684.00" x2="53.40" y2="862.80" stroke="#333" stroke-width="1.5" />
<line x1="52.80" y1="862.30" x2="329.60" y2="862.30" stroke="#333" stroke-width="1.8" />
<text transform="translate(46.60,712.40) rotate(-90)" x="0" y="2.99" font-size="8.3"  text-anchor="middle" fill="#111" stroke="#111" stroke-width="0.3" textLength="4.3" lengthAdjust="spacingAndGlyphs">0</text>
<text transform="translate(46.60,739.60) rotate(-90)" x="0" y="2.99" font-size="8.3"  text-anchor="middle" fill="#111" stroke="#111" stroke-width="0.3" textLength="8.6" lengthAdjust="spacingAndGlyphs">20</text>
<text transform="translate(46.60,766.80) rotate(-90)" x="0" y="2.99" font-size="8.3"  text-anchor="middle" fill="#111" stroke="#111" stroke-width="0.3" textLength="8.6" lengthAdjust="spacingAndGlyphs">40</text>
<text transform="translate(46.60,794.00) rotate(-90)" x="0" y="2.99" font-size="8.3"  text-anchor="middle" fill="#111" stroke="#111" stroke-width="0.3" textLength="8.6" lengthAdjust="spacingAndGlyphs">60</text>
<text transform="translate(46.60,821.20) rotate(-90)" x="0" y="2.99" font-size="8.3"  text-anchor="middle" fill="#111" stroke="#111" stroke-width="0.3" textLength="8.6" lengthAdjust="spacingAndGlyphs">80</text>
<text transform="translate(46.60,848.40) rotate(-90)" x="0" y="2.99" font-size="8.3"  text-anchor="middle" fill="#111" stroke="#111" stroke-width="0.3" textLength="12.6" lengthAdjust="spacingAndGlyphs">100</text>
<text x="54.00" y="876.00" font-size="8.5"   text-anchor="middle" fill="#111" stroke="#111" stroke-width="0.35" textLength="4.3" lengthAdjust="spacingAndGlyphs" >0</text>
<text x="98.00" y="876.00" font-size="8.5"   text-anchor="middle" fill="#111" stroke="#111" stroke-width="0.35" textLength="4.3" lengthAdjust="spacingAndGlyphs" >1</text>
<text x="142.00" y="876.00" font-size="8.5"   text-anchor="middle" fill="#111" stroke="#111" stroke-width="0.35" textLength="4.3" lengthAdjust="spacingAndGlyphs" >2</text>
<text x="186.00" y="876.00" font-size="8.5"   text-anchor="middle" fill="#111" stroke="#111" stroke-width="0.35" textLength="4.3" lengthAdjust="spacingAndGlyphs" >3</text>
<text x="230.00" y="876.00" font-size="8.5"   text-anchor="middle" fill="#111" stroke="#111" stroke-width="0.35" textLength="4.3" lengthAdjust="spacingAndGlyphs" >4</text>
<text x="274.00" y="876.00" font-size="8.5"   text-anchor="middle" fill="#111" stroke="#111" stroke-width="0.35" textLength="4.3" lengthAdjust="spacingAndGlyphs" >5</text>
<text x="318.00" y="876.00" font-size="8.5"   text-anchor="middle" fill="#111" stroke="#111" stroke-width="0.35" textLength="4.3" lengthAdjust="spacingAndGlyphs" >6</text>
<text x="150.80" y="888.80" font-size="9.8"   text-anchor="start" fill="#111" stroke="#111" stroke-width="0.25" textLength="63.0" lengthAdjust="spacingAndGlyphs" >Time [minutes]</text>
<text transform="translate(25.60,780.05) rotate(-90)" x="0" y="3.74" font-size="10.4"  text-anchor="middle" fill="#111" stroke="#111" stroke-width="0.35" textLength="67.5" lengthAdjust="spacingAndGlyphs">Aggregation [%]</text>
<polyline points="53.50,713.64 55.20,712.98 56.90,712.02 58.65,712.56 60.40,712.98 62.10,712.24 63.80,711.81 65.25,711.35 66.70,710.06 68.15,711.29 69.60,713.00 71.35,711.98 73.10,711.50 74.55,710.54 76.00,709.88 77.40,710.59 78.80,711.88 80.25,712.17 81.70,712.11 83.15,712.99 84.60,713.70 86.90,714.94 89.20,713.95 91.00,711.55 91.60,715.48 93.80,720.80 94.83,725.58 95.87,729.45 96.90,733.47 98.07,735.80 99.23,739.43 100.40,741.86 101.55,746.31 102.70,749.82 103.87,753.44 105.03,755.82 106.20,759.62 107.33,761.86 108.47,763.75 109.60,766.25 110.77,767.99 111.93,768.84 113.10,770.88 114.25,772.65 115.40,773.32 116.55,775.50 117.70,776.76 118.85,777.86 120.00,778.02 121.15,778.56 122.30,780.42 123.45,781.15 124.60,781.37 125.75,781.61 126.90,782.48 128.05,784.09 129.20,784.61 130.35,786.53 131.50,787.02 132.68,787.21 133.85,788.57 135.02,788.88 136.20,790.41 137.35,790.67 138.50,790.42 139.65,790.90 140.80,791.28 142.15,794.38 143.50,797.57 144.63,798.17 145.77,800.57 146.90,802.84 148.05,802.58 149.20,803.12 150.35,802.58 151.50,803.83 152.65,802.19 153.80,800.46 154.98,802.08 156.15,802.44 157.32,803.12 158.50,804.38 159.65,804.77 160.80,805.74 161.95,807.54 163.10,808.18 164.25,807.12 165.40,808.09 166.55,806.92 167.70,807.27 168.85,807.97 170.00,807.47 171.15,807.33 172.30,807.73 173.45,808.04 174.60,807.98 175.76,809.88 176.92,809.24 178.08,810.43 179.24,811.56 180.40,811.76 181.55,812.19 182.70,810.78 183.85,811.42 185.00,810.92 186.15,810.22 187.30,810.15 188.46,810.11 189.62,811.22 190.78,811.75 191.94,811.94 193.10,812.46 194.17,813.11 195.25,813.02 196.32,812.90 197.40,814.15 198.47,813.80 199.55,814.43 200.62,815.17 201.70,814.64 202.78,814.69 203.86,815.09 204.94,816.01 206.02,815.95 207.10,816.06 208.12,816.86 209.15,818.05 210.17,817.63 211.20,818.37 212.32,819.25 213.43,819.09 214.55,818.83 215.67,819.33 216.78,819.55 217.90,819.30 219.02,819.81 220.13,819.89 221.25,820.78 222.37,820.29 223.48,820.94 224.60,821.56 225.72,821.49 226.83,820.73 227.95,821.04 229.07,820.65 230.18,820.76 231.30,820.88 232.43,821.34 233.57,821.58 234.70,820.71 235.83,820.34 236.97,821.00 238.10,820.48 239.22,820.41 240.33,821.42 241.45,820.46 242.57,821.27 243.68,820.74 244.80,821.51 245.92,821.39 247.03,820.29 248.15,820.47 249.27,821.53 250.38,821.06 251.50,820.79 252.63,821.45 253.77,821.64 254.90,821.34 256.03,821.46 257.17,821.09 258.30,821.61 259.42,821.42 260.53,822.21 261.65,822.30 262.77,821.77 263.88,822.56 265.00,821.94 266.00,821.98 267.00,822.76 268.00,822.54 269.00,823.18 270.00,822.83 271.00,822.96 272.00,822.19 273.00,823.21 274.00,822.19 275.00,822.97 276.00,823.36 277.00,823.33 278.00,823.29 279.00,822.65 280.00,822.97 281.00,823.09 282.00,822.15 283.00,823.26 284.00,823.19 285.00,822.52 286.00,823.05 287.00,822.65 288.00,822.47 289.00,823.14 290.00,822.29 291.00,823.38 292.00,823.69 293.00,822.78 294.00,823.76 295.00,822.62 296.00,823.68 297.00,822.85 298.00,823.79 299.00,823.02 300.00,823.69 301.00,822.42 302.00,822.48 303.00,823.48 304.00,823.21 305.00,823.05 306.00,822.33 307.00,822.50 308.00,822.76 309.00,822.29 310.00,823.59 311.00,823.25 312.00,823.49 313.00,823.12 314.00,822.60 315.00,822.21 316.01,823.04 317.03,822.09 318.04,822.61 319.06,822.41 320.07,822.36 321.09,821.69 322.10,821.60 323.11,822.14 324.13,821.37 325.14,821.98 326.16,821.37 327.17,821.47 328.19,821.20 329.20,821.60" fill="none" stroke="#6e6e6e" stroke-width="1.25" stroke-linejoin="round" stroke-linecap="round" />
<polyline points="53.50,712.70 55.80,708.70 58.10,707.20 63.80,707.50 65.00,704.00 66.70,694.20 67.90,693.30 79.40,693.30 80.60,696.50 81.70,704.60 82.90,709.80 84.60,712.70 88.10,717.30 91.00,720.80 93.80,726.50 94.60,731.50 95.75,733.52 96.90,735.32 98.05,737.24 99.20,738.76 100.35,740.11 101.50,740.28 102.65,741.91 103.80,743.59 104.97,744.41 106.15,745.84 107.33,746.12 108.50,747.67 109.65,748.87 110.80,750.65 111.95,752.13 113.10,752.96 114.24,754.33 115.38,755.54 116.52,757.38 117.66,758.35 118.80,758.83 119.96,760.45 121.12,760.64 122.28,762.09 123.44,762.47 124.60,763.25 125.76,765.15 126.92,765.36 128.08,766.31 129.24,768.09 130.40,768.91 131.55,768.97 132.70,770.41 133.85,770.64 135.00,771.50 136.16,770.98 137.32,771.79 138.48,771.51 139.64,771.81 140.80,771.73 141.95,771.80 143.10,772.60 144.25,773.11 145.40,773.81 146.67,774.75 147.93,776.05 149.20,777.41 150.35,776.75 151.50,777.50 152.65,777.12 153.80,777.09 154.98,777.80 156.15,777.58 157.32,777.55 158.50,777.88 159.65,778.55 160.80,778.26 161.95,779.70 163.10,779.08 164.24,780.21 165.38,780.66 166.52,780.09 167.66,781.28 168.80,781.15 169.96,781.39 171.12,780.76 172.28,780.80 173.44,780.95 174.60,781.80 175.75,781.57 176.90,782.78 178.05,783.57 179.20,784.19 180.37,783.53 181.53,783.54 182.70,783.73 183.87,784.00 185.03,783.27 186.20,783.97 187.33,783.36 188.47,782.76 189.60,781.19 190.77,782.66 191.93,782.18 193.10,782.92 194.32,783.39 195.53,783.89 196.75,783.42 197.97,784.23 199.18,783.98 200.40,783.89 201.75,784.80 203.10,785.55 204.43,785.07 205.77,784.78 207.10,785.01 208.47,786.01 209.83,785.76 211.20,786.30 212.53,786.00 213.87,784.17 215.20,782.70 216.55,782.84 217.90,783.55 219.25,784.13 220.60,784.05 221.95,783.86 223.30,783.31 224.65,784.11 226.00,782.99 227.33,784.16 228.67,785.21 230.00,785.09 232.00,783.75 233.35,785.64 234.70,786.94 235.83,786.02 236.97,784.17 238.10,783.43 239.45,783.26 240.80,784.18 242.15,783.72 243.50,784.05 244.82,785.17 246.15,785.54 247.48,786.20 248.80,786.15 249.93,785.29 251.07,784.65 252.20,783.48 253.36,783.27 254.53,783.39 255.69,783.11 256.85,783.36 258.02,784.04 259.18,784.01 260.35,783.64 261.51,783.50 262.67,783.32 263.84,783.05 265.00,783.25 266.25,783.89 267.50,784.05 268.75,783.57 270.00,784.11 271.23,784.54 272.47,784.88 273.70,785.28 274.80,784.92 275.90,784.02 277.00,783.92 278.14,783.49 279.29,783.74 280.43,784.08 281.57,784.02 282.71,783.62 283.86,784.36 285.00,784.06 286.11,783.83 287.22,783.05 288.33,783.49 289.44,783.00 290.56,783.31 291.67,782.93 292.78,783.16 293.89,782.82 295.00,782.83 296.17,782.55 297.33,783.09 298.50,783.41 299.67,783.73 300.83,783.42 302.00,784.18 303.14,784.04 304.29,783.66 305.43,783.81 306.57,783.62 307.71,782.96 308.86,782.80 310.00,782.23 311.14,783.16 312.29,783.45 313.43,783.13 314.57,783.55 315.71,783.77 316.86,783.97 318.00,783.54 319.12,784.15 320.24,783.87 321.36,783.90 322.48,783.57 323.60,783.74 324.72,783.84 325.84,783.63 326.96,783.66 328.08,782.84 329.20,783.30" fill="none" stroke="#1e1e1e" stroke-width="1.2" stroke-linejoin="round" stroke-linecap="round" />
<text x="72.70" y="704.30" font-size="10.5" font-weight="bold"  text-anchor="middle" fill="#111" stroke="#111" stroke-width="0.6" textLength="4.6" lengthAdjust="spacingAndGlyphs" >1</text>
<text x="138.10" y="782.70" font-size="10.0" font-weight="bold"  text-anchor="middle" fill="#111" stroke="#111" stroke-width="0.5" textLength="4.4" lengthAdjust="spacingAndGlyphs" >1</text>
<text x="226.30" y="796.50" font-size="10.2" font-weight="bold"  text-anchor="middle" fill="#111" stroke="#111" stroke-width="0.5" textLength="4.4" lengthAdjust="spacingAndGlyphs" >1</text>
<text x="73.70" y="721.40" font-size="10"   text-anchor="middle" fill="#7a7a7a" stroke="#7a7a7a" stroke-width="0.5" textLength="5.6" lengthAdjust="spacingAndGlyphs" >2</text>
<text x="138.90" y="805.30" font-size="10"   text-anchor="middle" fill="#7a7a7a" stroke="#7a7a7a" stroke-width="0.5" textLength="5.6" lengthAdjust="spacingAndGlyphs" >2</text>
<text x="227.70" y="833.30" font-size="10"   text-anchor="middle" fill="#7a7a7a" stroke="#7a7a7a" stroke-width="0.5" textLength="5.6" lengthAdjust="spacingAndGlyphs" >2</text>
<text x="275.00" y="802.00" font-size="12.5"   text-anchor="start" fill="#111" stroke="#111" stroke-width="0.2" textLength="49.4" lengthAdjust="spacingAndGlyphs" >patient 2</text>
<text x="282.30" y="841.60" font-size="12.5"   text-anchor="start" fill="#111" stroke="#111" stroke-width="0.2" textLength="39.4" lengthAdjust="spacingAndGlyphs" >control</text>
</svg>
</body></html>
